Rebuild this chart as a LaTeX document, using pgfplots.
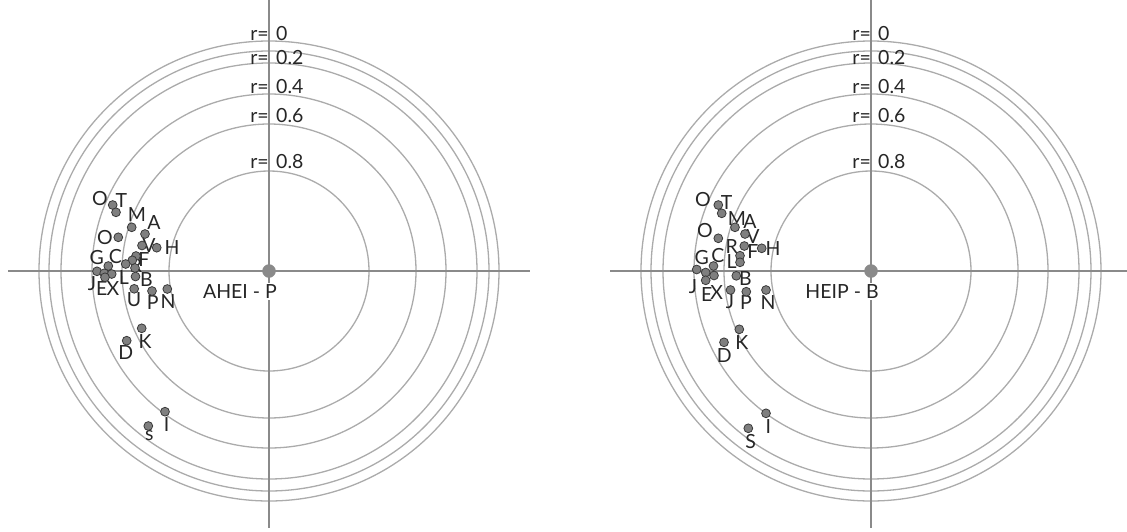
\documentclass[border=0pt]{standalone}
\usepackage{pgfplots}
\usepackage{pgfplotstable}
\pgfplotsset{compat=1.18}
\usepackage{fontspec}
\setmainfont{Lato}
\definecolor{axgray}{HTML}{8A8A8A}
\definecolor{cgray}{HTML}{ABABAB}
\definecolor{ptfill}{HTML}{7F7F7F}
\definecolor{ptdraw}{HTML}{3A3A3A}

\pgfplotstableread{
x y
-156.3 66
-153 58.7
-137.3 43.7
-124 37
-150.7 33.7
-127 25.5
-112.3 23.3
-133 15
-136.7 10.7
-143.3 7
-134 3
-133.5 -5.5
-160.7 5
-172 -0.3
-164.8 -2.3
-157.3 -3
-164 -6.3
-134.8 -17.8
-117 -20
-101.7 -18
-127.3 -57.3
-142.3 -69.7
-104 -140.7
-120.7 -155
}\ptsA

\pgfplotstableread{
x y lab
-169 72 O
-147.5 70 T
-132 56 M
-115 48 A
-164 33 O
-120 25 V
-97 23 H
-172.3 13 G
-153.5 14 C
-125 11 F
-133 5 R
-145 -6.5 L
-122.5 -9 B
-177 -13 J
-167.3 -18 E
-156 -18 X
-135 -29 U
-116.3 -32 P
-101 -30.7 N
-124 -70.7 K
-143.3 -82 D
-102.3 -154 I
-119.7 -165 s
}\labA

\pgfplotstableread{
x y
-152.7 66
-149.3 57.7
-136 43.7
-126 37
-152.7 32.7
-126.7 25
-109.3 22.7
-131 15.3
-131 8.7
-157.5 5
-174.3 1.5
-165.3 -1.5
-157 -4.5
-165.3 -9.3
-134.7 -4.8
-140.5 -19
-124.7 -20.7
-105 -19
-131.7 -58.3
-147 -71.3
-105 -142.3
-122.7 -157.3
}\ptsB

\pgfplotstableread{
x y lab
-168 71 O
-144.3 68.3 T
-134 52 M
-121 49 A
-166 40 O
-118 34 V
-139.3 24.3 R
-118 19 F
-98 22 H
-169.3 13 G
-153 15 C
-139.3 9 L
-125.5 -8 B
-178 -15.7 J
-164.3 -24 E
-154.3 -22 X
-141 -30.7 J
-125 -32 P
-103 -32 N
-129.3 -71.7 K
-146.7 -85 D
-102.7 -155.7 I
-120.3 -170.7 S
}\labB

\newcommand{\txt}{\fontsize{19.5}{22}\selectfont}

\pgfplotsset{
  polarpanel/.style={
    x=1pt, y=1pt, hide axis, clip=false,
    ymin=-260, ymax=271, anchor=origin,
  },
}

\newcommand{\panelbody}[3]{%
  \pgfplotsinvokeforeach{230,220,208,177,147,100}{%
    \draw[cgray, line width=1.3pt] (axis cs:0,0) circle [radius=##1pt];}
  \draw[axgray, line width=2.7pt] (axis cs:-261,0) -- (axis cs:261,0);
  \draw[axgray, line width=2.7pt] (axis cs:0,271) -- (axis cs:0,-257);
  \node[anchor=base east, inner sep=0pt, font=\txt, text=black!85] at (axis cs:0,231) {r=};
  \node[anchor=base west, inner sep=0pt, font=\txt, text=black!85] at (axis cs:7,231) {0};
  \node[anchor=base east, inner sep=0pt, font=\txt, text=black!85] at (axis cs:0,207) {r=};
  \node[anchor=base west, inner sep=0pt, font=\txt, text=black!85] at (axis cs:7,207) {0.2};
  \node[anchor=base east, inner sep=0pt, font=\txt, text=black!85] at (axis cs:0,178) {r=};
  \node[anchor=base west, inner sep=0pt, font=\txt, text=black!85] at (axis cs:7,178) {0.4};
  \node[anchor=base east, inner sep=0pt, font=\txt, text=black!85] at (axis cs:0,149) {r=};
  \node[anchor=base west, inner sep=0pt, font=\txt, text=black!85] at (axis cs:7,149) {0.6};
  \node[anchor=base east, inner sep=0pt, font=\txt, text=black!85] at (axis cs:0,103) {r=};
  \node[anchor=base west, inner sep=0pt, font=\txt, text=black!85] at (axis cs:7,103) {0.8};
  \node[fill=white, inner sep=2pt, font=\txt, text=black!85] at (axis cs:-29,-20.5) {#3};
  \addplot[draw=none, mark=none, nodes near coords, point meta=explicit symbolic,
    every node near coord/.style={anchor=center, inner sep=0pt, font=\txt, text=black!85}]
    table[x=x, y=y, meta=lab] {#2};
  \addplot[only marks, mark=*, mark size=4.4pt,
    mark options={fill=ptfill, draw=ptdraw, line width=0.8pt}]
    table[x=x, y=y] {#1};
  \addplot[only marks, mark=*, mark size=6.5pt,
    mark options={fill=axgray, draw=axgray}]
    coordinates {(0,0)};
}

\begin{document}
\begin{tikzpicture}
\useasboundingbox (0,0) rectangle (1127pt,-531pt);
\begin{axis}[polarpanel, at={(269pt,-271pt)}, xmin=-269, xmax=294]
\panelbody{\ptsA}{\labA}{AHEI - P}
\end{axis}
\begin{axis}[polarpanel, at={(871pt,-271pt)}, xmin=-308, xmax=256]
\panelbody{\ptsB}{\labB}{HEIP - B}
\end{axis}
\end{tikzpicture}
\end{document}
